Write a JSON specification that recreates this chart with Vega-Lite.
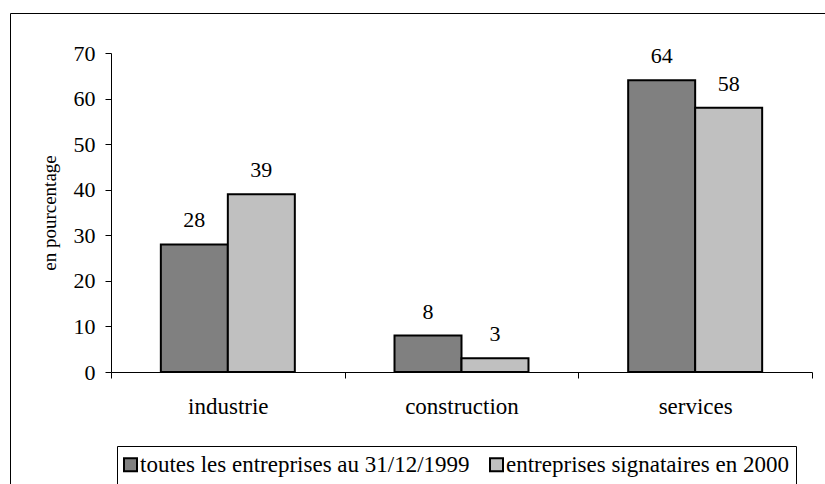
{
  "$schema": "https://vega.github.io/schema/vega-lite/v6.json",
  "width": 820,
  "height": 480,
  "autosize": {"type": "none"},
  "padding": {"left": 10, "top": 13, "right": 0, "bottom": 0},
  "background": "white",
  "config": {
    "view": {"stroke": "black", "strokeWidth": 1},
    "font": "'Liberation Serif', 'Times New Roman', serif"
  },
  "data": {
    "values": [
      {"secteur": "industrie", "serie": "toutes les entreprises au 31/12/1999", "valeur": 28},
      {"secteur": "industrie", "serie": "entreprises signataires en 2000", "valeur": 39},
      {"secteur": "construction", "serie": "toutes les entreprises au 31/12/1999", "valeur": 8},
      {"secteur": "construction", "serie": "entreprises signataires en 2000", "valeur": 3},
      {"secteur": "services", "serie": "toutes les entreprises au 31/12/1999", "valeur": 64},
      {"secteur": "services", "serie": "entreprises signataires en 2000", "valeur": 58}
    ]
  },
  "encoding": {
    "x": {
      "field": "secteur",
      "type": "nominal",
      "sort": null,
      "scale": {"range": [101, 802], "paddingInner": 0, "paddingOuter": 0},
      "axis": {
        "title": null,
        "orient": "bottom",
        "offset": -121,
        "labelAngle": 0,
        "tickBand": "extent",
        "domainColor": "black",
        "domainWidth": 1,
        "tickColor": "black",
        "tickSize": 6,
        "labelFont": "'Liberation Serif', 'Times New Roman', serif",
        "labelFontSize": 23,
        "labelColor": "black",
        "labelPadding": 17
      }
    },
    "xOffset": {
      "field": "serie",
      "type": "nominal",
      "sort": null,
      "scale": {"paddingInner": 0, "paddingOuter": 0.744}
    },
    "y": {
      "field": "valeur",
      "type": "quantitative",
      "scale": {"domain": [0, 70], "range": [359, 40], "nice": false, "zero": true},
      "axis": {
        "title": "en pourcentage",
        "offset": -101,
        "values": [0, 10, 20, 30, 40, 50, 60, 70],
        "grid": false,
        "domainColor": "black",
        "domainWidth": 1,
        "tickColor": "black",
        "tickSize": 6,
        "labelFont": "'Liberation Serif', 'Times New Roman', serif",
        "labelFontSize": 22,
        "labelColor": "black",
        "labelPadding": 10,
        "titleFont": "'Liberation Serif', 'Times New Roman', serif",
        "titleFontSize": 19,
        "titleFontWeight": "normal",
        "titleColor": "black",
        "titlePadding": 14
      }
    }
  },
  "layer": [
    {
      "mark": {"type": "bar", "stroke": "black", "strokeWidth": 2},
      "encoding": {
        "color": {
          "field": "serie",
          "type": "nominal",
          "sort": null,
          "scale": {"range": ["#808080", "#C0C0C0"]},
          "legend": {
            "title": null,
            "orient": "none",
            "legendX": 107,
            "legendY": 433,
            "direction": "horizontal",
            "strokeColor": "black",
            "fillColor": "white",
            "padding": 7,
            "symbolType": "square",
            "symbolSize": 169,
            "symbolStrokeColor": "black",
            "symbolStrokeWidth": 2,
            "symbolOpacity": 1,
            "symbolOffset": -5,
            "labelFont": "'Liberation Serif', 'Times New Roman', serif",
            "labelFontSize": 23,
            "labelColor": "black",
            "labelOffset": -2,
            "labelLimit": 0,
            "columnPadding": 16
          }
        }
      }
    },
    {
      "mark": {
        "type": "text",
        "dy": -17,
        "baseline": "alphabetic",
        "font": "'Liberation Serif', 'Times New Roman', serif",
        "fontSize": 22,
        "color": "black"
      },
      "encoding": {
        "text": {"field": "valeur", "type": "quantitative"}
      }
    }
  ]
}
